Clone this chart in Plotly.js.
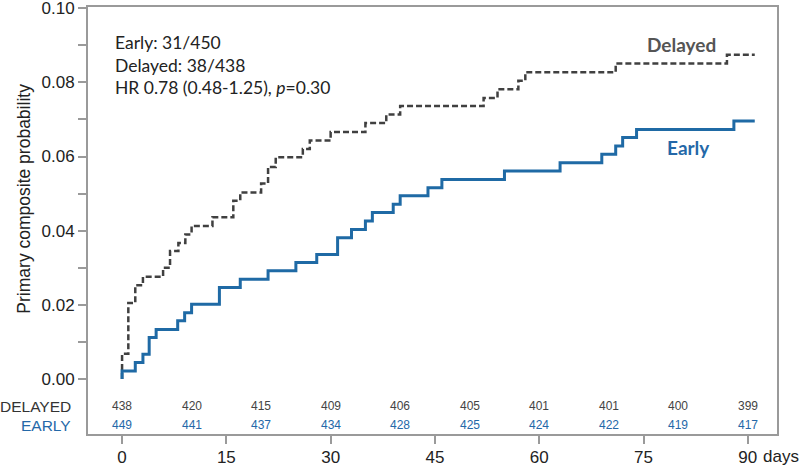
<!DOCTYPE html>
<html>
<head>
<meta charset="utf-8">
<script src="https://cdn.plot.ly/plotly-3.0.1.min.js"></script>
<style>html,body{margin:0;padding:0;background:#fff;}#chart{width:800px;height:468px;}</style>
</head>
<body>
<div id="chart"></div>
<script>
// Early group: event times (days) and cumulative probability
const earlyDays = [0, 0, 1.9, 3.0, 3.9, 4.9, 8.0, 9.0, 10.0, 14.0, 17.0, 21.0, 25.0, 28.0, 31.0, 33.0, 35.0, 36.0, 39.0, 40.0, 44.0, 46.0, 55.0, 63.0, 69.0, 71.0, 72.0, 74.0, 88.0, 91.0];
const earlyProb = [0, 0.0022, 0.0045, 0.0067, 0.0112, 0.0134, 0.0157, 0.0179, 0.0202, 0.0247, 0.0269, 0.0292, 0.0314, 0.0336, 0.0381, 0.0403, 0.0426, 0.0449, 0.0471, 0.0494, 0.0516, 0.0538, 0.0561, 0.0583, 0.0606, 0.0628, 0.0651, 0.0673, 0.0696, 0.0696];
// Delayed group
const delayedDays = [0, 0, 0.9, 1.9, 3.0, 5.9, 6.9, 8.1, 9.1, 10.0, 13.0, 16.0, 17.0, 20.0, 21.0, 22.1, 26.0, 27.0, 30.0, 35.0, 38.0, 40.0, 52.0, 54.0, 57.0, 58.0, 71.0, 87.0, 91.0];
const delayedProb = [0, 0.0068, 0.0205, 0.0253, 0.0276, 0.0300, 0.0345, 0.0367, 0.0390, 0.0413, 0.0436, 0.0481, 0.0503, 0.0527, 0.0572, 0.0598, 0.0620, 0.0643, 0.0666, 0.0690, 0.0713, 0.0736, 0.0758, 0.0781, 0.0804, 0.0827, 0.0851, 0.0874, 0.0874];
// Numbers at risk
const riskDays = [0, 10, 20, 30, 40, 50, 60, 70, 80, 90];
const riskDelayed = [438, 420, 415, 409, 406, 405, 401, 401, 400, 399];
const riskEarly = [449, 441, 437, 434, 428, 425, 424, 422, 419, 417];
// Axis ticks
const xTickVals = [0, 15, 30, 45, 60, 75, 90];
const xTickText = ["0", "15", "30", "45", "60", "75", "90"];
const yTickVals = [0, 0.01, 0.02, 0.03, 0.04, 0.05, 0.06, 0.07, 0.08, 0.09, 0.10];
const yTickText = ["0.00", "", "0.02", "", "0.04", "", "0.06", "", "0.08", "", "0.10"];
// Summary text
const summaryLines = ["Early: 31/450", "Delayed: 38/438", "HR 0.78 (0.48-1.25), <i>p</i>=0.30"];

const BLUE = "#1f6aa5";
const BLUE_TXT = "#2468a8";
const GRAY = "#404040";
const AXIS = "#9a9a9a";
const FONT = "'Liberation Sans', Arial, sans-serif";
const SFONT = "Lato, 'Open Sans', sans-serif";

const traces = [
  {x: delayedDays, y: delayedProb, type: "scatter", mode: "lines",
   line: {shape: "hv", color: GRAY, width: 2.5, dash: "6px,3px"}, hoverinfo: "skip"},
  {x: earlyDays, y: earlyProb, type: "scatter", mode: "lines",
   line: {shape: "hv", color: BLUE, width: 3}, hoverinfo: "skip"}
];

const ann = [];
const lineY = [0.0906, 0.0846, 0.0787];
summaryLines.forEach((t, i) => ann.push({
  text: t, xref: "paper", yref: "y", x: 0.037, y: lineY[i], xanchor: "left", yanchor: "middle",
  showarrow: false, font: {family: SFONT, size: 17.5, color: "#222"}
}));
ann.push({text: "<b>Delayed</b>", xref: "x", yref: "y", x: 80.4, y: 0.0903, showarrow: false,
  font: {family: SFONT, size: 19, color: "#555"}});
ann.push({text: "<b>Early</b>", xref: "x", yref: "y", x: 81.4, y: 0.0623, showarrow: false,
  font: {family: SFONT, size: 19, color: BLUE_TXT}});
riskDays.forEach((d, i) => {
  ann.push({text: String(riskDelayed[i]), xref: "x", yref: "y", x: d, y: -0.0073, showarrow: false,
    font: {family: FONT, size: 12, color: "#444"}});
  ann.push({text: String(riskEarly[i]), xref: "x", yref: "y", x: d, y: -0.0124, showarrow: false,
    font: {family: FONT, size: 12, color: BLUE_TXT}});
});
ann.push({text: "DELAYED", xref: "paper", yref: "y", x: -0.022, y: -0.0073, xanchor: "right", showarrow: false,
  font: {family: FONT, size: 15.5, color: "#333"}});
ann.push({text: "EARLY", xref: "paper", yref: "y", x: -0.022, y: -0.0124, xanchor: "right", showarrow: false,
  font: {family: FONT, size: 15.5, color: BLUE_TXT}});
ann.push({text: "days", xref: "paper", yref: "paper", x: 0.977, y: 0, xanchor: "left", yanchor: "middle", yshift: -22,
  showarrow: false, font: {family: FONT, size: 17, color: "#222"}});
ann.push({text: "Primary composite probability", xref: "paper", yref: "paper", x: -0.093, y: 0.551,
  xanchor: "center", yanchor: "middle", textangle: -90, showarrow: false,
  font: {family: FONT, size: 17.5, color: "#222"}});

const layout = {
  width: 800, height: 468,
  margin: {l: 88, r: 23, t: 7, b: 34},
  paper_bgcolor: "#fff", plot_bgcolor: "#fff",
  showlegend: false,
  xaxis: {
    range: [-4.9, 94.2], tickmode: "array", tickvals: xTickVals, ticktext: xTickText,
    ticks: "outside", ticklen: 8, tickwidth: 2, tickcolor: AXIS, ticklabelstandoff: -1,
    showline: true, linecolor: AXIS, linewidth: 2, mirror: true,
    showgrid: false, zeroline: false,
    tickfont: {family: FONT, size: 17, color: "#222"}
  },
  yaxis: {
    range: [-0.0148, 0.1003], tickmode: "array", tickvals: yTickVals, ticktext: yTickText,
    ticks: "outside", ticklen: 8, tickwidth: 2, tickcolor: AXIS, ticklabeloverflow: "allow",
    showline: true, linecolor: AXIS, linewidth: 2, mirror: true,
    showgrid: false, zeroline: false,
    tickfont: {family: FONT, size: 17, color: "#222"}
  },
  annotations: ann
};

Plotly.newPlot("chart", traces, layout, {staticPlot: true, displayModeBar: false});
</script>
</body>
</html>
